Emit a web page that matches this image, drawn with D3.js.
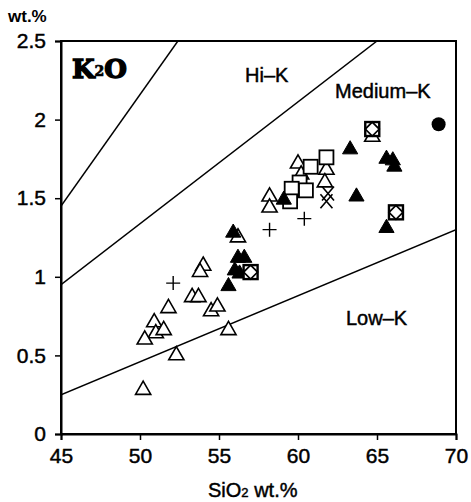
<!DOCTYPE html>
<html>
<head>
<meta charset="utf-8">
<script src="https://cdn.jsdelivr.net/npm/d3@7"></script>
<style>
  body { margin: 0; background: #fff; }
  text { font-family: "Liberation Sans", Arial, sans-serif; fill: #000; }
  .lbl { stroke: #000; stroke-width: 0.45px; }
</style>
</head>
<body>
<div id="chart"></div>
<script>
// K2O vs SiO2 classification diagram

const xTicks = [45, 50, 55, 60, 65, 70];
const yTicks = [0, 0.5, 1, 1.5, 2, 2.5];
const yTickLabels = ['0', '0.5', '1', '1.5', '2', '2.5'];

// boundary lines [SiO2, K2O]
const lowMedLine = [[45, 0.25], [70, 1.30]];
const medHighLine = [[45, 0.95], [65, 2.5]];
const highShoLine = [[45, 1.45], [52.4, 2.5]];

// samples [SiO2, K2O]
const openTriangles = [
  [60.0, 1.72], [60.2, 1.65], [58.2, 1.51], [58.2, 1.44], [61.8, 1.68], [61.7, 1.60],
  [64.7, 1.89], [56.2, 1.25], [54.0, 1.07], [53.8, 1.03], [53.3, 0.87], [53.7, 0.87],
  [54.5, 0.78], [54.9, 0.81], [51.8, 0.80], [50.9, 0.71], [51.0, 0.64], [51.5, 0.66],
  [50.3, 0.60], [52.3, 0.50], [55.6, 0.66], [50.2, 0.28]
];
const squares = [
  [60.8, 1.70], [61.8, 1.76], [60.1, 1.60], [60.5, 1.55], [59.6, 1.56], [59.5, 1.48]
];
const filledTriangles = [
  [63.3, 1.81], [65.6, 1.75], [66.0, 1.74], [66.1, 1.70], [63.7, 1.51], [65.6, 1.31],
  [59.1, 1.49], [55.9, 1.28], [56.2, 1.12], [56.6, 1.12], [56.0, 1.04], [56.3, 1.02],
  [55.6, 0.94]
];
const squareDiamonds = [[64.7, 1.94], [66.2, 1.41], [57.0, 1.03]];
const circles = [[68.9, 1.97]];
const pluses = [[52.1, 0.96], [58.2, 1.30], [60.4, 1.37]];
const crosses = [[61.9, 1.53], [61.8, 1.48]];

const width = 471, height = 502;
const margin = { top: 41, right: 15, bottom: 68, left: 61 };

const svg = d3.select('#chart').append('svg')
  .attr('width', width)
  .attr('height', height);

const x = d3.scaleLinear().domain([45, 70]).range([margin.left, width - margin.right]);
const y = d3.scaleLinear().domain([0, 2.5]).range([height - margin.bottom, margin.top]);

svg.append('clipPath').attr('id', 'plot-clip')
  .append('rect')
  .attr('x', x(45)).attr('y', y(2.5))
  .attr('width', x(70) - x(45)).attr('height', y(0) - y(2.5));

// frame
svg.append('rect')
  .attr('x', x(45)).attr('y', y(2.5))
  .attr('width', x(70) - x(45)).attr('height', y(0) - y(2.5))
  .attr('fill', 'none').attr('stroke', '#000').attr('stroke-width', 2);

// axes
const xAxis = svg.append('g')
  .attr('transform', `translate(0,${y(0)})`)
  .call(d3.axisBottom(x).tickValues(xTicks).tickSize(6).tickPadding(8));
const yAxis = svg.append('g')
  .attr('transform', `translate(${x(45)},0)`)
  .call(d3.axisLeft(y).tickValues(yTicks).tickSize(6).tickPadding(9)
    .tickFormat((d, i) => yTickLabels[i]));

[xAxis, yAxis].forEach(g => {
  g.select('.domain').attr('stroke-width', 2);
  g.selectAll('.tick line').attr('stroke-width', 1.5);
  g.selectAll('.tick text')
    .attr('class', 'lbl')
    .style('font-size', '21px')
    .style('font-family', '"Liberation Sans", Arial, sans-serif')
    .attr('fill', '#000');
});

// boundary lines
const line = d3.line().x(d => x(d[0])).y(d => y(d[1]));
svg.append('g').attr('clip-path', 'url(#plot-clip)')
  .selectAll('path')
  .data([lowMedLine, medHighLine, highShoLine])
  .join('path')
  .attr('d', line)
  .attr('fill', 'none')
  .attr('stroke', '#000')
  .attr('stroke-width', 1.5);

// markers
const marks = svg.append('g');
const tri = d3.symbol().type(d3.symbolTriangle).size(100);

marks.selectAll('.otri').data(openTriangles).join('path')
  .attr('d', tri)
  .attr('transform', d => `translate(${x(d[0])},${y(d[1])})`)
  .attr('fill', '#fff').attr('stroke', '#000').attr('stroke-width', 1.6);

marks.selectAll('.sq').data(squares).join('rect')
  .attr('x', d => x(d[0]) - 7).attr('y', d => y(d[1]) - 7)
  .attr('width', 14).attr('height', 14)
  .attr('fill', '#fff').attr('stroke', '#000').attr('stroke-width', 1.8);

marks.selectAll('.ftri').data(filledTriangles).join('path')
  .attr('d', tri)
  .attr('transform', d => `translate(${x(d[0])},${y(d[1])})`)
  .attr('fill', '#000').attr('stroke', '#000').attr('stroke-width', 1);

const sd = marks.selectAll('.sd').data(squareDiamonds).join('g')
  .attr('transform', d => `translate(${x(d[0])},${y(d[1])})`);
sd.append('rect')
  .attr('x', -7).attr('y', -7).attr('width', 14).attr('height', 14)
  .attr('fill', '#fff').attr('stroke', '#000').attr('stroke-width', 2.4);
sd.append('path')
  .attr('d', 'M0,-7L7,0L0,7L-7,0Z')
  .attr('fill', 'none').attr('stroke', '#000').attr('stroke-width', 1.7);

marks.selectAll('.circ').data(circles).join('circle')
  .attr('cx', d => x(d[0])).attr('cy', d => y(d[1])).attr('r', 7)
  .attr('fill', '#000');

marks.selectAll('.plus').data(pluses).join('path')
  .attr('d', 'M-7,0H7M0,-7V7')
  .attr('transform', d => `translate(${x(d[0])},${y(d[1])})`)
  .attr('stroke', '#000').attr('stroke-width', 1.4).attr('fill', 'none');

marks.selectAll('.cross').data(crosses).join('path')
  .attr('d', 'M-6,-7L6,7M-6,7L6,-7')
  .attr('transform', d => `translate(${x(d[0])},${y(d[1])})`)
  .attr('stroke', '#000').attr('stroke-width', 1.6).attr('fill', 'none');

// labels
const k2o = svg.append('text')
  .attr('x', 72).attr('y', 78)
  .style('font-family', '"DejaVu Serif", serif')
  .style('font-weight', 'bold')
  .style('font-size', '26px')
  .style('stroke', '#000').style('stroke-width', '1.4px');
k2o.append('tspan').text('K');
k2o.append('tspan').text('2').style('font-size', '14px').style('stroke-width', '0.7px').attr('dy', -2);
k2o.append('tspan').text('O').attr('dy', 2);

svg.append('text').attr('class', 'lbl').attr('x', 245).attr('y', 82).style('font-size', '20px').text('Hi–K');
svg.append('text').attr('class', 'lbl').attr('x', 335).attr('y', 98).style('font-size', '20px').text('Medium–K');
svg.append('text').attr('class', 'lbl').attr('x', 346).attr('y', 325).style('font-size', '20px').text('Low–K');

svg.append('text').attr('x', 8).attr('y', 22)
  .style('font-size', '17px').style('font-weight', 'bold').text('wt.%');

const xl = svg.append('text').attr('class', 'lbl').attr('x', 208).attr('y', 497).style('font-size', '20px');
xl.append('tspan').text('SiO');
xl.append('tspan').text('2').style('font-size', '13px');
xl.append('tspan').text(' wt.%');
</script>
</body>
</html>
